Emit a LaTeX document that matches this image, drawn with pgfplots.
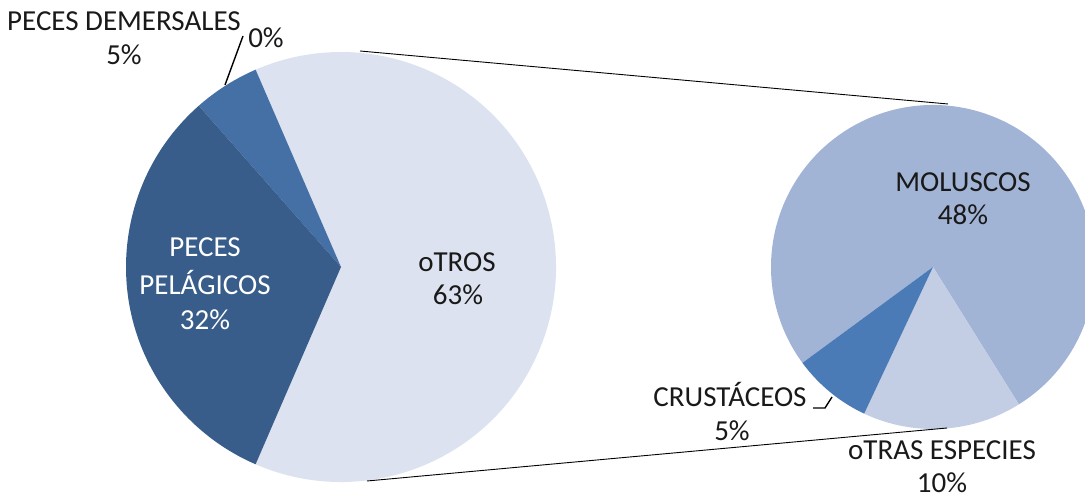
\documentclass[border=0pt]{standalone}
\usepackage{pgfplots}
\pgfplotsset{compat=1.18}
\usepackage{fontspec}
\setmainfont{Carlito}
\definecolor{cPel}{HTML}{385D8A}
\definecolor{cDem}{HTML}{4470A6}
\definecolor{cOtr}{HTML}{DCE2EF}
\definecolor{cMol}{HTML}{A2B4D6}
\definecolor{cOes}{HTML}{C3CDE3}
\definecolor{cCru}{HTML}{4A7BB6}
\tikzset{lbl/.style={font=\fontsize{29}{35}\selectfont, anchor=base, text=black!90, inner sep=0pt}}
% slice: cx, cy, radius, start angle (deg, ccw), value, total, colour
\newcommand{\pieslice}[7]{%
  \fill[#7] (axis cs:#1,#2) -- ++({#4}:#3pt)
    arc[start angle={#4}, delta angle={#5/#6*360}, radius=#3pt] -- cycle;}
\begin{document}
\begin{tikzpicture}
\begin{axis}[
  scale only axis, width=1085pt, height=500pt,
  xmin=0, xmax=1085, ymin=0, ymax=500,
  hide axis, clip=true,
]
\path (axis cs:0,0) rectangle (axis cs:1085,500);
% ---- main pie (total 100): otros 63, pelagicos 32, demersales 5, 0
\pieslice{341}{233}{215}{-0.5*63*3.6}{63}{100}{cOtr}
\pieslice{341}{233}{215}{0.5*63*3.6}{5}{100}{cDem}
\pieslice{341}{233}{215}{(0.5*63+5)*3.6}{32}{100}{cPel}
% ---- secondary pie (total 63): moluscos 48, otras especies 10, crustaceos 5
\pieslice{933}{233}{162}{-58}{48}{63}{cMol}
\pieslice{933}{233}{162}{-58-10/63*360}{10}{63}{cOes}
\pieslice{933}{233}{162}{-58-15/63*360}{5}{63}{cCru}
% connector lines
\draw[black, line width=0.9pt] (axis cs:360,449) -- (axis cs:948,396);
\draw[black, line width=0.9pt] (axis cs:367,19) -- (axis cs:947,72);
% leader lines
\draw[black, line width=1.4pt] (axis cs:225,415) -- (axis cs:243,464);
\draw[black, line width=1.4pt] (axis cs:813,92) -- (axis cs:825,92) -- (axis cs:832,103);
% labels (one node per line, at its baseline)
\node[lbl] at (axis cs:124,469) {PECES DEMERSALES};
\node[lbl] at (axis cs:124,435) {5\%};
\node[lbl] at (axis cs:266,452) {0\%};
\node[lbl] at (axis cs:457,228) {oTROS};
\node[lbl] at (axis cs:458,195) {63\%};
\node[lbl, text=white] at (axis cs:205,243) {PECES};
\node[lbl, text=white] at (axis cs:205,205) {PELÁGICOS};
\node[lbl, text=white] at (axis cs:205,170) {32\%};
\node[lbl] at (axis cs:963,308) {MOLUSCOS};
\node[lbl] at (axis cs:963,275) {48\%};
\node[lbl] at (axis cs:730,93) {CRUSTÁCEOS};
\node[lbl] at (axis cs:732,59) {5\%};
\node[lbl] at (axis cs:942,40) {oTRAS ESPECIES};
\node[lbl] at (axis cs:942,7) {10\%};
\end{axis}
\end{tikzpicture}
\end{document}
